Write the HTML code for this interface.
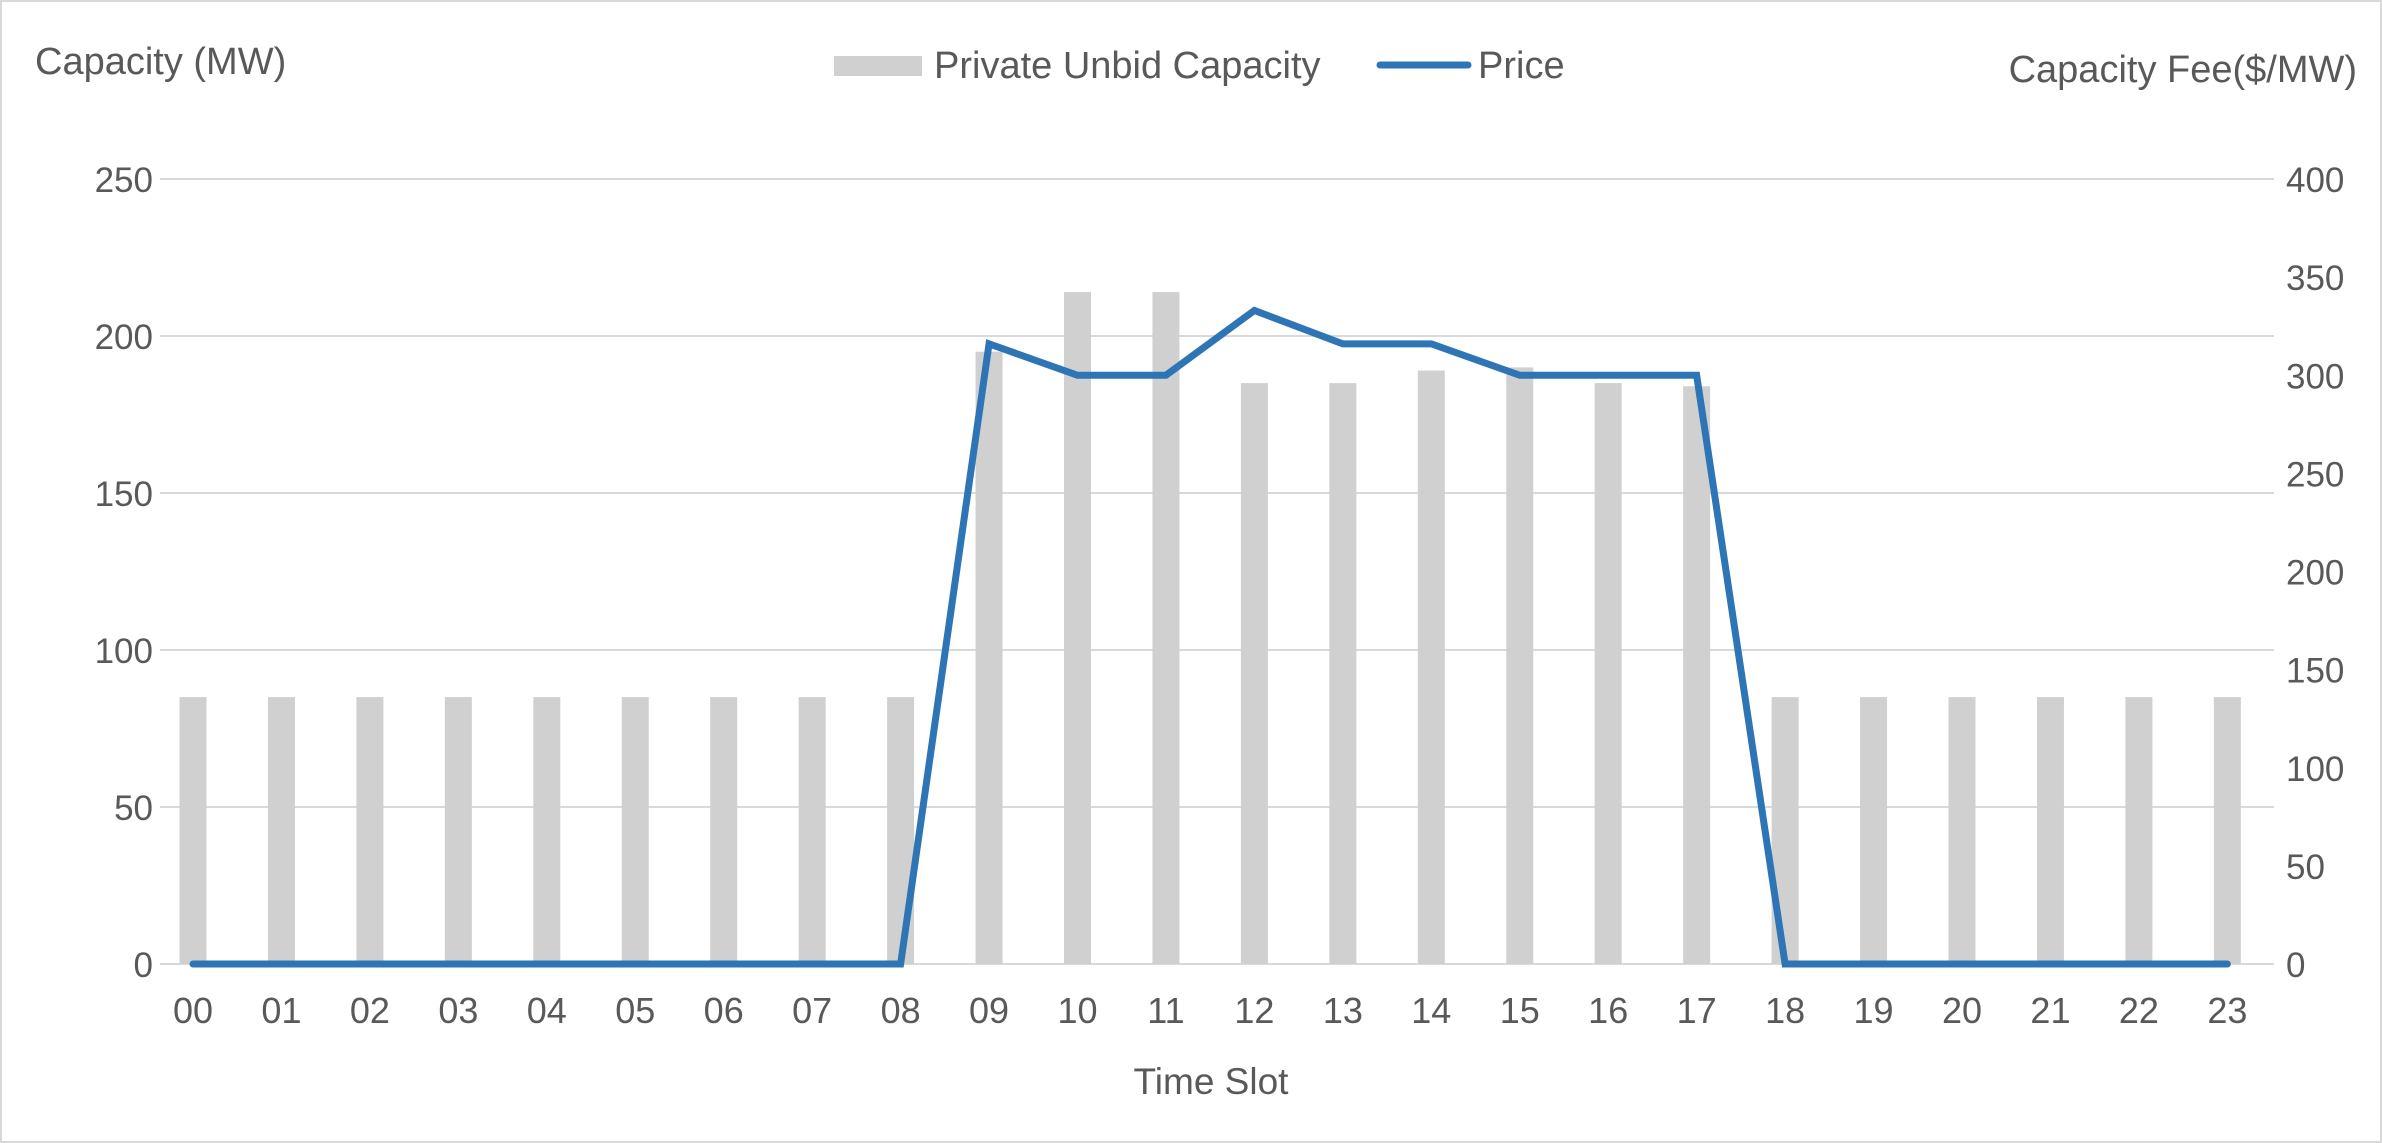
<!DOCTYPE html>
<html><head><style>
body{margin:0;background:#fff}
svg{display:block}
text{font-family:"Liberation Sans",sans-serif;fill:#595959}
</style></head><body>
<svg width="2382" height="1143" viewBox="0 0 2382 1143">
<rect x="1" y="1" width="2380" height="1141" fill="#fff" stroke="#d9d9d9" stroke-width="2"/>
<g stroke="#d9d9d9" stroke-width="2">
<line x1="160" y1="179" x2="2274" y2="179"/>
<line x1="160" y1="336" x2="2274" y2="336"/>
<line x1="160" y1="493" x2="2274" y2="493"/>
<line x1="160" y1="650" x2="2274" y2="650"/>
<line x1="160" y1="807" x2="2274" y2="807"/>
<line x1="160" y1="964" x2="2274" y2="964"/>
</g>
<g fill="#d0d0d0" id="bars"></g>
<polyline id="line" fill="none" stroke="#2e75b6" stroke-width="7" stroke-linejoin="miter" stroke-linecap="round"/>
<g font-size="35" text-anchor="end" id="ly"></g>
<g font-size="35" text-anchor="start" id="ry"></g>
<g font-size="36" text-anchor="middle" id="xl"></g>
<text x="35" y="74" font-size="38">Capacity (MW)</text>
<text x="2357" y="82" font-size="38" text-anchor="end">Capacity Fee($/MW)</text>
<rect x="834" y="56" width="88" height="20" fill="#d0d0d0"/>
<text x="934" y="78" font-size="38">Private Unbid Capacity</text>
<line x1="1380" y1="65" x2="1468" y2="65" stroke="#2e75b6" stroke-width="7" stroke-linecap="round"/>
<text x="1478" y="78" font-size="38">Price</text>
<text x="1211" y="1094" font-size="37" text-anchor="middle">Time Slot</text>
</svg>
<script>
var cap=[85,85,85,85,85,85,85,85,85,195,214,214,185,185,189,190,185,184,85,85,85,85,85,85];
var pr=[0,0,0,0,0,0,0,0,0,316,300,300,333,316,316,300,300,300,0,0,0,0,0,0];
var ns="http://www.w3.org/2000/svg";
function el(t,a,p,txt){var e=document.createElementNS(ns,t);for(var k in a)e.setAttribute(k,a[k]);if(txt!==undefined)e.textContent=txt;document.getElementById(p).appendChild(e);}
var pts=[];
for(var i=0;i<24;i++){
 var cx=193+i*88.45;
 var h=cap[i]*3.14;
 el('rect',{x:cx-13.5,y:964-h,width:27,height:h},'bars');
 pts.push(cx+','+(964-pr[i]*1.9625));
 el('text',{x:cx,y:1023},'xl',(i<10?'0':'')+i);
}
document.getElementById('line').setAttribute('points',pts.join(' '));
for(var j=0;j<=5;j++){
 var y=964-j*157;
 el('text',{x:153,y:y+13},'ly',String(j*50));
}
for(var j=0;j<=8;j++){
 var y=964-j*98.125;
 el('text',{x:2286,y:y+13},'ry',String(j*50));
}
</script>
</body></html>
